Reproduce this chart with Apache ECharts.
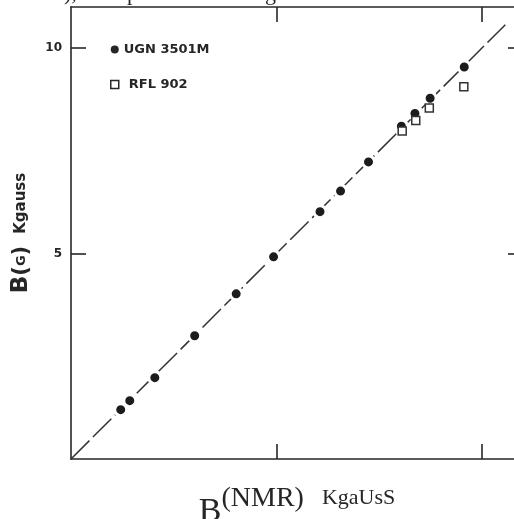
<!DOCTYPE html>
<html>
<head>
<meta charset="utf-8">
<script src="https://cdn.jsdelivr.net/npm/echarts@6/dist/echarts.min.js"></script>
<style>
html,body{margin:0;padding:0;background:#fff;}
#chart{width:514px;height:519px;}
</style>
</head>
<body>
<div id="chart"></div>
<script>
// ---- data ----
const seriesNames = ['UGN 3501M', 'RFL 902'];
const ugnX = [1.21, 1.43, 2.04, 3.01, 4.02, 4.93, 6.06, 6.56, 7.24, 8.04, 8.37, 8.74, 9.57];
const ugnY = [1.20, 1.42, 1.98, 3.00, 4.02, 4.92, 6.02, 6.52, 7.23, 8.10, 8.41, 8.78, 9.54];
const rflX = [8.06, 8.39, 8.72, 9.56];
const rflY = [7.98, 8.24, 8.54, 9.06];
const identityX = [0, 10.57];
const identityY = [0, 10.57];
const tickValues = [5, 10];
const axisMin = 0;
const axisMax = 11;

const zip = (xs, ys) => xs.map((x, i) => [x, ys[i]]);
const ink = '#262626';

const chart = echarts.init(document.getElementById('chart'), null, {renderer: 'canvas'});

const frameAxis = (extra) => Object.assign({
  type: 'value', min: axisMin, max: axisMax, interval: 5,
  axisLine: {show: true, onZero: false, lineStyle: {color: ink, width: 1.6}},
  axisTick: {show: true, inside: true, length: 15, customValues: tickValues, lineStyle: {color: ink, width: 1.6}},
  axisLabel: {show: false},
  splitLine: {show: false}
}, extra);

chart.setOption({
  backgroundColor: '#ffffff',
  animation: false,
  grid: {left: 71, top: 7, width: 452, height: 452, outerBoundsMode: 'none'},
  legend: {
    orient: 'vertical', left: 105, top: 38, itemWidth: 8, itemGap: 22, itemHeight: 8,
    textStyle: {fontFamily: 'DejaVu Sans', fontWeight: 'bold', fontSize: 13, color: ink},
    data: [
      {name: seriesNames[0], icon: 'circle', itemStyle: {color: ink, borderWidth: 0}},
      {name: seriesNames[1], icon: 'rect', itemStyle: {color: '#fff', borderColor: ink, borderWidth: 1.5},
       textStyle: {padding: [0, 0, 0, 5]}}
    ]
  },
  xAxis: [
    frameAxis({
      position: 'bottom',
      name: '{b|B}{p|(NMR)}{k|KgaUsS}',
      nameLocation: 'middle', nameGap: 26,
      nameTextStyle: {
        rich: {
          b: {fontFamily: 'Liberation Serif', fontSize: 34, color: ink, verticalAlign: 'bottom', lineHeight: 44},
          p: {fontFamily: 'Liberation Serif', fontSize: 28, color: ink, verticalAlign: 'top', lineHeight: 30},
          k: {fontFamily: 'Liberation Serif', fontSize: 22, color: ink, verticalAlign: 'top', lineHeight: 26, padding: [2, 0, 0, 18]}
        }
      }
    }),
    frameAxis({position: 'top'})
  ],
  yAxis: [
    frameAxis({
      position: 'left',
      axisLabel: {show: true, customValues: tickValues, margin: 9, fontFamily: 'DejaVu Sans', fontWeight: 'bold', fontSize: 12, color: ink},
      name: '{b|B}{q|(}{g|G}{q|)}{k|Kgauss}',
      nameLocation: 'middle', nameRotate: 90, nameGap: 38,
      nameTextStyle: {
        rich: {
          b: {fontFamily: 'DejaVu Sans', fontWeight: 'bold', fontSize: 23, color: ink},
          q: {fontFamily: 'DejaVu Sans', fontWeight: 'bold', fontSize: 21, color: ink},
          g: {fontFamily: 'DejaVu Sans', fontWeight: 'bold', fontSize: 13, color: ink},
          k: {fontFamily: 'DejaVu Sans', fontWeight: 'bold', fontSize: 15, color: ink, padding: [0, 0, 0, 12]}
        }
      }
    }),
    frameAxis({position: 'right'})
  ],
  series: [
    {
      name: 'identity', type: 'line', data: zip(identityX, identityY), symbol: 'none',
      lineStyle: {color: '#333', width: 1.5, type: [26, 5]}, z: 1, silent: true
    },
    {
      name: seriesNames[0], type: 'scatter', data: zip(ugnX, ugnY), symbol: 'circle', symbolSize: 12,
      itemStyle: {color: '#1c1c1c', borderColor: '#ffffff', borderWidth: 3, opacity: 1}, z: 3
    },
    {
      name: seriesNames[1], type: 'scatter', data: zip(rflX, rflY), symbol: 'rect', symbolSize: 8,
      itemStyle: {color: '#ffffff', borderColor: '#333', borderWidth: 1.5, opacity: 1}, z: 3
    }
  ],
  graphic: [
    {type: 'text', left: 64, top: -17, style: {text: '),', fontFamily: 'Liberation Serif', fontSize: 22, fill: ink}},
    {type: 'text', left: 127, top: -17, style: {text: 'p', fontFamily: 'Liberation Serif', fontSize: 22, fill: ink}},
    {type: 'text', left: 265, top: -17, style: {text: 'g', fontFamily: 'Liberation Serif', fontSize: 22, fill: ink}}
  ]
});
</script>
</body>
</html>
